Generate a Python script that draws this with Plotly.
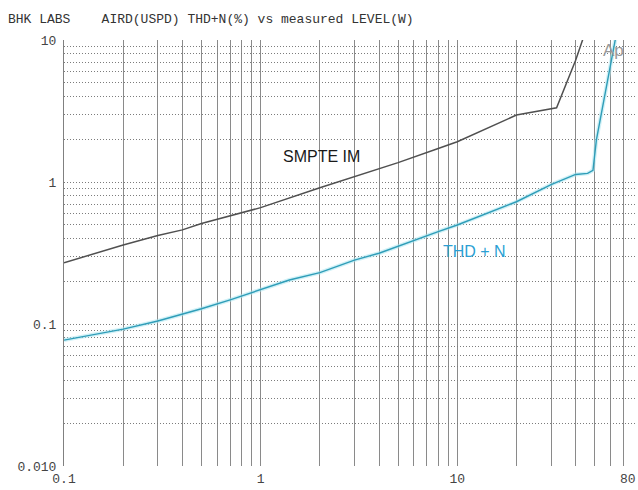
import math
import plotly.graph_objects as go

# ---- data ----
smpte_x = [0.1, 0.2, 0.3, 0.4, 0.5, 0.7, 1.0, 2.0, 3.0, 4.0, 5.0, 8.0, 10, 20, 30, 32, 40, 44]
smpte_y = [0.27, 0.36, 0.42, 0.46, 0.51, 0.58, 0.66, 0.91, 1.09, 1.25, 1.37, 1.72, 1.92, 2.96, 3.27, 3.33, 7.2, 10.6]

thd_x = [0.1, 0.2, 0.3, 0.4, 0.5, 0.7, 1.0, 1.4, 2.0, 3.0, 4.0, 5.0, 6.0, 8.0, 10, 20, 30, 40, 46, 49, 51, 60, 64]
thd_y = [0.077, 0.092, 0.105, 0.117, 0.128, 0.148, 0.175, 0.204, 0.23, 0.282, 0.315, 0.354, 0.386, 0.447,
         0.498, 0.726, 0.96, 1.13, 1.15, 1.21, 1.98, 6.5, 10.5]

x_tick_vals = [m * d for d in (0.1, 1, 10) for m in range(1, 10) if m * d <= 80]
x_tick_labels = {0.1: "0.1", 1: "1", 10: "10"}
x_end_label = "80"
y_tick_vals = [m * d for d in (0.01, 0.1, 1) for m in range(1, 10)] + [10]
y_tick_labels = {0.01: "0.010", 0.1: "0.1", 1: "1", 10: "10"}

title_text = "BHK LABS    AIRD(USPD) THD+N(%) vs measured LEVEL(W)"

mono = "Liberation Mono, DejaVu Sans Mono, monospace"
sans = "Liberation Sans, Arial, sans-serif"


def label_for(v, table):
    for k, t in table.items():
        if abs(v - k) < 1e-9 * max(1, k):
            return t
    return ""


fig = go.Figure()
# light halo under the THD+N trace (pen bleed in the original plot)
fig.add_trace(go.Scatter(x=thd_x, y=thd_y, mode="lines",
                         line=dict(color="rgba(170,230,240,0.55)", width=4),
                         hoverinfo="skip", showlegend=False))
fig.add_trace(go.Scatter(x=thd_x, y=thd_y, mode="lines", name="THD + N",
                         line=dict(color="#2f9db8", width=1.4), showlegend=False))
fig.add_trace(go.Scatter(x=smpte_x, y=smpte_y, mode="lines", name="SMPTE IM",
                         line=dict(color="#505050", width=1.5), showlegend=False))

fig.update_xaxes(type="log", range=[-1, math.log10(80) + 0.0008], automargin=False,
                 tickmode="array", tickvals=x_tick_vals,
                 ticktext=[label_for(v, x_tick_labels) for v in x_tick_vals],
                 showgrid=True, gridcolor="#8a8a8a", gridwidth=1,
                 ticks="", showline=False, zeroline=False, ticklabelstandoff=3,
                 tickfont=dict(family=mono, size=13, color="#444444"))
fig.update_yaxes(type="log", range=[-2, 1], automargin=False,
                 tickmode="array", tickvals=y_tick_vals,
                 ticktext=[label_for(v, y_tick_labels) for v in y_tick_vals],
                 showgrid=True, gridcolor="#7c7c7c", gridwidth=1, griddash="1px,2px",
                 ticks="", showline=True, linecolor="#808080", linewidth=1,
                 zeroline=False, ticklabelstandoff=4,
                 tickfont=dict(family=mono, size=13, color="#444444"))

# end-of-axis label, right-aligned so it stays inside the window
fig.add_annotation(xref="paper", yref="paper", x=1, y=0, xanchor="right", yanchor="top",
                   xshift=3, yshift=-4, text=x_end_label, showarrow=False,
                   font=dict(family=mono, size=13, color="#444444"))

fig.add_annotation(x=math.log10(2.03), y=math.log10(1.52), text="SMPTE IM", showarrow=False,
                   font=dict(family=sans, size=16, color="#1a1a1a"))
fig.add_annotation(x=math.log10(12.3), y=math.log10(0.324), text="THD + N", showarrow=False,
                   font=dict(family=sans, size=16, color="#2b9fd4"))
fig.add_annotation(x=math.log10(62), y=math.log10(8.4), text="Ap", showarrow=False,
                   font=dict(family=sans, size=17, color="#999999"))

fig.update_layout(
    width=638, height=490,
    margin=dict(l=64, r=3, t=40, b=24),
    paper_bgcolor="white", plot_bgcolor="white",
    title=dict(text=title_text, x=0.0125, xanchor="left", y=0.963, yanchor="middle",
               font=dict(family=mono, size=13, color="#333333")),
    showlegend=False,
)

# remove the default page margin so the 638x490 figure fills the window exactly
fig.write_html("out.html",
               config={"displayModeBar": False},
               post_script="document.body.style.margin='0';document.body.style.overflow='hidden';")
